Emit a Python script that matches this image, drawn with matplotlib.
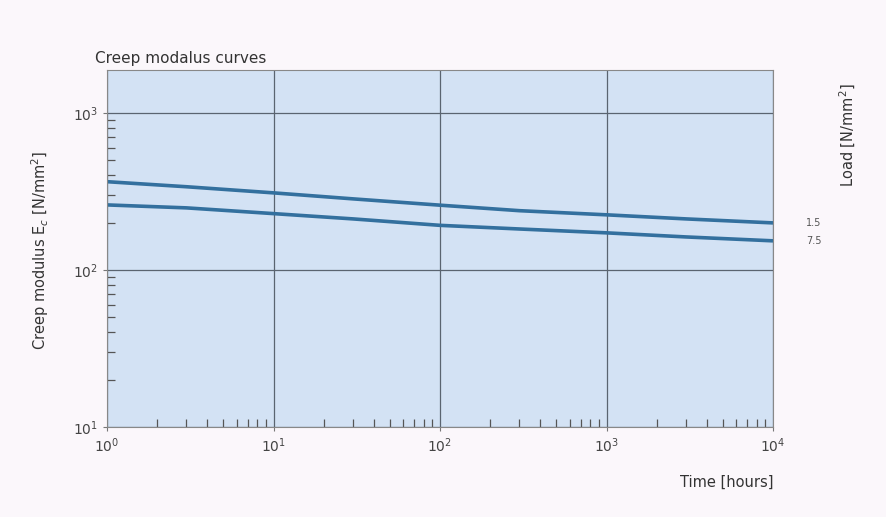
import numpy as np
import matplotlib.pyplot as plt
from matplotlib.ticker import LogLocator, NullFormatter

time_h = [1, 3, 10, 30, 100, 300, 1000, 3000, 10000]
load_labels = ["1.5", "7.5"]
modulus_15 = [364, 338, 309, 283, 258, 238, 224, 211, 199]
modulus_75 = [259, 248, 228, 211, 192, 182, 172, 162, 153]

fig = plt.figure(figsize=(8.86, 5.17), dpi=100)
fig.patch.set_facecolor("#fbf7fb")
ax = fig.add_axes([107/886, 1-427/517, (773-107)/886, (427-70)/517])
ax.set_facecolor("#d3e2f4")
ax.set_xscale("log")
ax.set_yscale("log")
ax.set_xlim(1, 10000)
ax.set_ylim(10, 1870)

line_color = "#33709e"
for vals, lab in zip([modulus_15, modulus_75], load_labels):
    ax.plot(time_h, vals, color=line_color, lw=2.6, solid_capstyle="butt",
            solid_joinstyle="round")
    ax.text(1.05, vals[-1], lab, transform=ax.get_yaxis_transform(),
            fontsize=7, color="#555555", va="center", ha="left")

ax.grid(True, which="major", color="#5a6470", lw=0.9)
ax.xaxis.set_minor_locator(LogLocator(base=10, subs=np.arange(2, 10)))
ax.yaxis.set_minor_locator(LogLocator(base=10, subs=np.arange(2, 10)))
ax.xaxis.set_minor_formatter(NullFormatter())
ax.yaxis.set_minor_formatter(NullFormatter())
ax.tick_params(which="minor", direction="in", length=6, color="#555555", width=0.9)
ax.tick_params(which="major", direction="out", length=3, color="#777777",
               labelsize=10, labelcolor="#444444")
for s in ax.spines.values():
    s.set_color("#888888")
    s.set_linewidth(0.8)

ax.set_xticks([1, 10, 100, 1000, 10000])
ax.set_xticklabels([r"$10^0$", r"$10^1$", r"$10^2$", r"$10^3$", r"$10^4$"])
ax.set_yticks([10, 100, 1000])
ax.set_yticklabels([r"$10^1$", r"$10^2$", r"$10^3$"])

fig.text(95/886, 1-58/517, "Creep modalus curves", fontsize=11, color="#333333",
         va="center", ha="left")
fig.text(40/886, 1-250/517, r"Creep modulus E$_c$ [N/mm$^2$]", rotation=90,
         fontsize=10.5, color="#333333", va="center", ha="center")
fig.text(848/886, 1-135/517, r"Load [N/mm$^2$]", rotation=90,
         fontsize=10.5, color="#333333", va="center", ha="center")
fig.text(773/886, 1-482/517, "Time [hours]", fontsize=10.5, color="#333333",
         va="center", ha="right")

fig.savefig("out.png", dpi=100, facecolor=fig.get_facecolor())
